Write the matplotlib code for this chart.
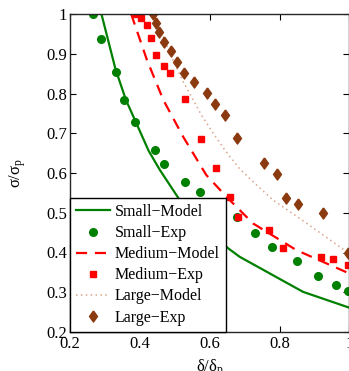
import matplotlib
matplotlib.use('Agg')
import matplotlib.pyplot as plt
from matplotlib.ticker import FuncFormatter
import numpy as np

plt.rcParams.update({
    "font.family": ["Liberation Serif", "DejaVu Serif"],
    "font.size": 12,
    "mathtext.fontset": "custom",
    "mathtext.rm": "Liberation Serif",
    "mathtext.it": "Liberation Serif:italic",
    "axes.linewidth": 1.0,
})

# Small specimen
small_exp_x = [0.265, 0.29, 0.331, 0.354, 0.387, 0.443, 0.469, 0.529, 0.573,
               0.679, 0.730, 0.779, 0.850, 0.911, 0.962, 0.997]
small_exp_y = [1.0, 0.937, 0.855, 0.784, 0.729, 0.658, 0.623, 0.578, 0.551,
               0.490, 0.448, 0.413, 0.379, 0.341, 0.318, 0.304]
small_mod_x = [0.29, 0.33, 0.36, 0.39, 0.425, 0.457, 0.514, 0.652, 0.686, 0.867, 1.0]
small_mod_y = [1.0, 0.862, 0.784, 0.725, 0.656, 0.608, 0.532, 0.411, 0.389, 0.301, 0.261]

# Medium specimen
med_exp_x = [0.389, 0.402, 0.421, 0.431, 0.445, 0.470, 0.486, 0.529, 0.576,
             0.618, 0.657, 0.681, 0.771, 0.811, 0.917, 0.954, 0.997]
med_exp_y = [1.0, 0.989, 0.972, 0.940, 0.897, 0.870, 0.852, 0.787, 0.685,
             0.612, 0.540, 0.490, 0.457, 0.412, 0.389, 0.384, 0.368]
med_mod_x = [0.375, 0.42, 0.467, 0.524, 0.59, 0.648, 0.724, 0.848, 1.0]
med_mod_y = [1.0, 0.885, 0.784, 0.691, 0.595, 0.540, 0.473, 0.406, 0.347]

# Large specimen
large_exp_x = [0.438, 0.445, 0.454, 0.469, 0.489, 0.507, 0.526, 0.555, 0.593,
               0.615, 0.645, 0.678, 0.755, 0.793, 0.817, 0.852, 0.924, 0.997]
large_exp_y = [1.0, 0.977, 0.954, 0.930, 0.908, 0.880, 0.851, 0.828, 0.802,
               0.774, 0.745, 0.687, 0.626, 0.597, 0.536, 0.522, 0.499, 0.40]
large_mod_x = [0.44, 0.492, 0.524, 0.576, 0.610, 0.643, 0.684, 0.729, 0.781, 0.857, 1.0]
large_mod_y = [1.0, 0.889, 0.830, 0.746, 0.700, 0.658, 0.612, 0.574, 0.532, 0.486, 0.397]

xticks = [0.2, 0.4, 0.6, 0.8, 1.0]
yticks = [0.2, 0.3, 0.4, 0.5, 0.6, 0.7, 0.8, 0.9, 1.0]

green = '#008000'
red = '#ff0000'
brown = '#8b3a10'
tan = '#dba48a'

# taller-than-wide diamond like MATLAB's
diamond = [(0, 1), (0.72, 0), (0, -1), (-0.72, 0), (0, 1)]

fig = plt.figure(figsize=(3.49, 3.71), dpi=100)
ax = fig.add_axes([70 / 349, 1 - 332 / 371, 279.5 / 349, 318 / 371])

ax.plot(small_mod_x, small_mod_y, color=green, lw=1.6, label='Small\u2212Model')
ax.plot(small_exp_x, small_exp_y, 'o', color=green, ms=5.5, mec=green,
        label='Small\u2212Exp')
ax.plot(med_mod_x, med_mod_y, color=red, lw=1.6, dashes=(5, 3.5),
        label='Medium\u2212Model')
ax.plot(med_exp_x, med_exp_y, 's', color=red, ms=5, mec=red,
        label='Medium\u2212Exp')
ax.plot(large_mod_x, large_mod_y, color=tan, lw=1.1, dashes=(1, 2.2),
        label='Large\u2212Model')
ax.plot(large_exp_x, large_exp_y, marker=diamond, ls='none', color=brown,
        ms=8, mec=brown, label='Large\u2212Exp')

ax.set_xlim(0.2, 1.0)
ax.set_ylim(0.2, 1.0)
ax.set_xticks(xticks)
ax.set_yticks(yticks)
fmt = FuncFormatter(lambda v, p: '%g' % round(v, 2))
ax.xaxis.set_major_formatter(fmt)
ax.yaxis.set_major_formatter(fmt)
ax.tick_params(direction='in', length=4, width=0.8, top=True, right=True,
               labelsize=12)
ax.tick_params(axis='x', pad=3)
ax.tick_params(axis='y', pad=2)
for s in ax.spines.values():
    s.set_color('#262626')

ax.set_xlabel('\u03b4/\u03b4$_\\mathrm{p}$', labelpad=3.5)
ax.set_ylabel('\u03c3/\u03c3$_\\mathrm{p}$', labelpad=13)

leg = ax.legend(loc='lower left', borderaxespad=0, frameon=True, fancybox=False,
                edgecolor='black', framealpha=1, fontsize=11.5, labelspacing=0.32,
                handlelength=2.1, handletextpad=0.3, borderpad=0.4)
leg.get_frame().set_linewidth(1.0)

fig.savefig('out.png', dpi=100, facecolor='white')
